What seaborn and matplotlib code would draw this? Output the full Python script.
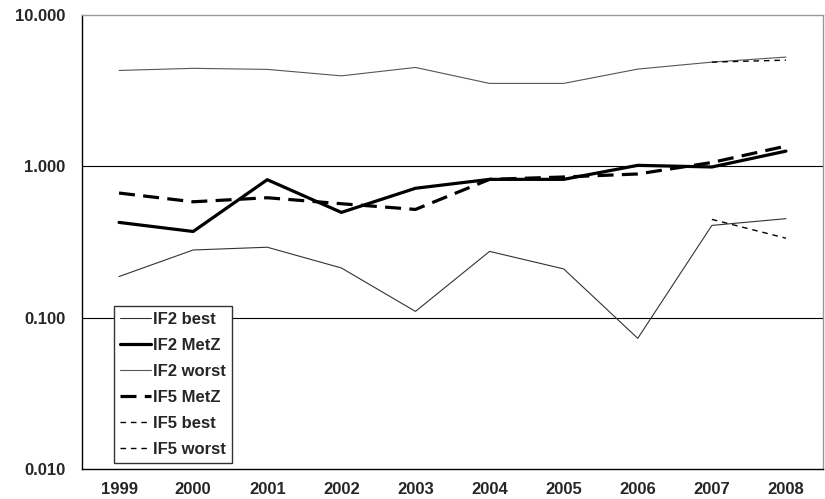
import pandas as pd
import numpy as np
import matplotlib
matplotlib.use("Agg")
import matplotlib.pyplot as plt
from matplotlib.ticker import FixedLocator, FuncFormatter
import seaborn as sns

years = [1999, 2000, 2001, 2002, 2003, 2004, 2005, 2006, 2007, 2008]
if2_best = [0.187, 0.28, 0.292, 0.213, 0.110, 0.274, 0.210, 0.073, 0.407, 0.451]
if2_metz = [0.426, 0.371, 0.816, 0.496, 0.716, 0.82, 0.82, 1.015, 0.99, 1.26]
if2_worst = [4.30, 4.44, 4.37, 3.96, 4.50, 3.53, 3.53, 4.39, 4.88, 5.27]
if5_metz = [0.666, 0.583, 0.620, 0.566, 0.519, 0.82, 0.85, 0.89, 1.06, 1.36]
if5_best = [None] * 8 + [0.446, 0.335]
if5_worst = [None] * 8 + [4.88, 5.03]

series_order = ["IF2 best", "IF2 MetZ", "IF2 worst", "IF5 MetZ", "IF5 best", "IF5 worst"]

wide = pd.DataFrame(
    {
        "Year": years,
        "IF2 best": if2_best,
        "IF2 MetZ": if2_metz,
        "IF2 worst": if2_worst,
        "IF5 MetZ": if5_metz,
        "IF5 best": if5_best,
        "IF5 worst": if5_worst,
    }
)
df = wide.melt(id_vars="Year", var_name="Series", value_name="Value").dropna()
df["Value"] = df["Value"].astype(float)

sns.set_style("white")
plt.rcParams["font.family"] = ["Liberation Sans", "DejaVu Sans"]
plt.rcParams["font.weight"] = "bold"

palette = {
    "IF2 best": "#333333",
    "IF2 MetZ": "black",
    "IF2 worst": "#555555",
    "IF5 MetZ": "black",
    "IF5 best": "black",
    "IF5 worst": "black",
}
sizes = {
    "IF2 best": 0.8,
    "IF2 MetZ": 2.3,
    "IF2 worst": 0.8,
    "IF5 MetZ": 2.3,
    "IF5 best": 1.0,
    "IF5 worst": 1.0,
}
dashes = {
    "IF2 best": "",
    "IF2 MetZ": "",
    "IF2 worst": "",
    "IF5 MetZ": (5, 2.6),
    "IF5 best": (4, 3.5),
    "IF5 worst": (4, 3.5),
}

fig = plt.figure(figsize=(8.25, 4.99), dpi=100)
ax = fig.add_axes([0.0994, 0.0601, 0.8982, 0.9099])

sns.lineplot(
    data=df,
    x="Year",
    y="Value",
    hue="Series",
    style="Series",
    size="Series",
    hue_order=series_order,
    style_order=series_order,
    size_order=series_order,
    palette=palette,
    sizes=sizes,
    dashes=dashes,
    estimator=None,
    ax=ax,
)

ax.set_yscale("log")
ax.set_ylim(0.01, 10)
ax.set_xlim(1998.5, 2008.5)

# gridlines at 0.1 and 1
for v in [0.1, 1.0]:
    ax.axhline(v, color="black", lw=0.8, zorder=0)

ax.yaxis.set_major_locator(FixedLocator([0.01, 0.1, 1, 10]))
ax.yaxis.set_minor_locator(FixedLocator([]))
ax.yaxis.set_major_formatter(FuncFormatter(lambda v, p: f"{v:.3f}"))

ax.set_xticks(years)
ax.set_xticklabels([str(y) for y in years])
ax.set_xticks([y + 0.5 for y in [1998] + years], minor=True)
ax.tick_params(axis="x", which="major", length=0, pad=9, labelsize=12)
ax.tick_params(axis="x", which="minor", length=4, width=1, color="black", direction="out")
ax.tick_params(axis="y", which="major", length=4, width=1, color="black", direction="out",
               pad=8, labelsize=12)
for lbl in ax.get_xticklabels() + ax.get_yticklabels():
    lbl.set_fontweight("bold")

ax.set_xlabel("")
ax.set_ylabel("")

ax.spines["left"].set_color("black")
ax.spines["bottom"].set_color("black")
ax.spines["top"].set_color("#999999")
ax.spines["right"].set_color("#999999")
for s in ax.spines.values():
    s.set_visible(True)
    s.set_linewidth(1)

handles, labels = ax.get_legend_handles_labels()
pairs = [(h, l) for h, l in zip(handles, labels) if l in series_order]
leg = ax.legend(
    [h for h, l in pairs],
    [l for h, l in pairs],
    loc="upper left",
    bbox_to_anchor=(0.043, 0.359),
    borderaxespad=0,
    frameon=True,
    fancybox=False,
    edgecolor="#333333",
    framealpha=1,
    prop={"size": 12, "weight": "bold"},
    handlelength=1.9,
    handletextpad=0.1,
    labelspacing=0.66,
    borderpad=0.35,
)
leg.get_frame().set_linewidth(1)

fig.savefig("out.png", dpi=100)
